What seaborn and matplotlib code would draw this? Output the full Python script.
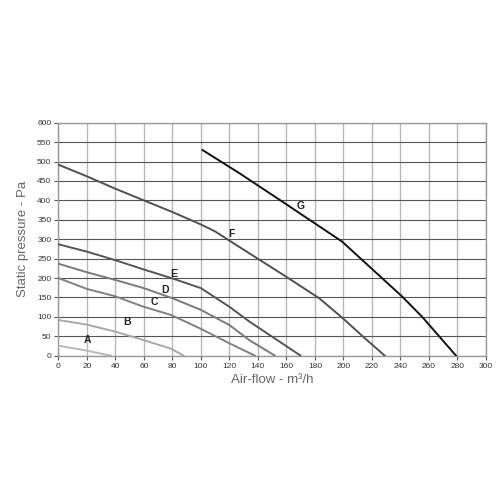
import matplotlib
matplotlib.use("Agg")
import matplotlib.pyplot as plt
import seaborn as sns
import pandas as pd

# Fan curves: air-flow (m3/h) vs static pressure (Pa)
curve_A_x = [0, 20, 37]
curve_A_y = [26, 13, 0]
curve_B_x = [0, 20, 40, 60, 79, 88]
curve_B_y = [92, 80, 62, 40, 18, 0]
curve_C_x = [0, 20, 40, 59, 79, 99, 120, 138]
curve_C_y = [200, 172, 153, 127, 105, 71, 32, 0]
curve_D_x = [0, 20, 40, 60, 80, 100, 120, 134, 152]
curve_D_y = [237, 215, 195, 174, 148, 118, 79, 40, 0]
curve_E_x = [0, 20, 40, 60, 80, 100, 120, 134, 170]
curve_E_y = [287, 268, 246, 222, 199, 174, 126, 88, 0]
curve_F_x = [0, 20, 40, 60, 80, 100, 110, 127, 160, 183, 200, 215, 229]
curve_F_y = [492, 462, 430, 400, 370, 338, 320, 280, 203, 148, 95, 45, 0]
curve_G_x = [101, 127, 155, 199, 241, 255, 279]
curve_G_y = [530, 470, 402, 294, 153, 101, 0]

curve_names = ["A", "B", "C", "D", "E", "F", "G"]
label_x = [20.5, 48.5, 67.5, 75, 81, 121.5, 170]
label_y = [41, 88, 138, 170, 211, 314, 386]

x_ticks = list(range(0, 301, 20))
y_ticks = list(range(0, 601, 50))

curves = {
    "A": (curve_A_x, curve_A_y), "B": (curve_B_x, curve_B_y),
    "C": (curve_C_x, curve_C_y), "D": (curve_D_x, curve_D_y),
    "E": (curve_E_x, curve_E_y), "F": (curve_F_x, curve_F_y),
    "G": (curve_G_x, curve_G_y),
}
rows = []
for name, (xs, ys) in curves.items():
    for i, (x, y) in enumerate(zip(xs, ys)):
        rows.append({"curve": name, "order": i, "airflow": x, "pressure": y})
df = pd.DataFrame(rows)

palette = {"A": "#b8b8b8", "B": "#a8a8a8", "C": "#808080", "D": "#7a7a7a",
           "E": "#555555", "F": "#505050", "G": "#111111"}

sns.set_style("white")
plt.rcParams["font.family"] = ["Liberation Sans", "DejaVu Sans"]

fig = plt.figure(figsize=(5, 5), dpi=100)
ax = fig.add_axes([0.1166, 0.2886, 0.8554, 0.4660])

ax.set_xlim(0, 300)
ax.set_ylim(0, 600)
ax.set_xticks(x_ticks)
ax.set_yticks(y_ticks)

for xv in x_ticks:
    ax.axvline(xv, color="#b8b8b8", lw=1.0, zorder=0)
for yv in y_ticks:
    ax.axhline(yv, color="#555555", lw=0.8, zorder=0)

sns.lineplot(data=df, x="airflow", y="pressure", hue="curve", units="curve",
             estimator=None, sort=False, palette=palette, lw=1.4,
             legend=False, ax=ax, zorder=3)

for name, lx, ly in zip(curve_names, label_x, label_y):
    ax.text(lx, ly, name, fontsize=7.5, fontweight="bold", color="#222222",
            ha="center", va="center", zorder=4)

for s in ax.spines.values():
    s.set_color("#999999")
    s.set_linewidth(1.0)

ax.tick_params(axis="both", length=3, width=0.8, color="#555555",
               labelsize=6, labelcolor="#333333", pad=2,
               left=True, bottom=True)

ax.set_xlabel("Air-flow - m³/h", fontsize=9.5, color="#666666", labelpad=3)
ax.set_ylabel("Static pressure - Pa", fontsize=9.5, color="#666666", labelpad=6)

fig.savefig("out.png", dpi=100, facecolor="white")
